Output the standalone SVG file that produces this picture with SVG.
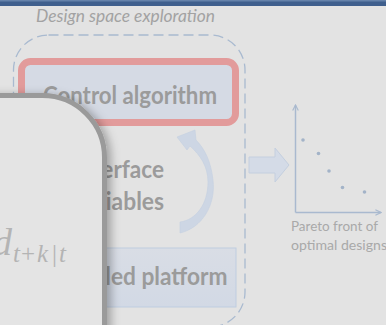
<svg xmlns="http://www.w3.org/2000/svg" width="386" height="325" viewBox="0 0 386 325">
<defs>
<style>
.bold{font-family:Lato,"Open Sans","Liberation Sans",sans-serif;font-weight:bold;font-size:24px;fill:#9b9b9b}
.cap{font-family:Lato,"Open Sans","Liberation Sans",sans-serif;font-size:14px;fill:#a9a9a9}
.math{font-family:"Liberation Serif","DejaVu Serif",serif;fill:#b4b4b4}
.axis{stroke:#a9b9cf;stroke-width:1.5;fill:none}
.dot{fill:#a3b3c8}
</style>
<marker id="chev" viewBox="0 0 10 10" refX="9" refY="5" markerWidth="7" markerHeight="7" orient="auto" markerUnits="userSpaceOnUse">
<path d="M1,1 L9,5 L1,9" fill="none" stroke="#a9b9cf" stroke-width="1.6"/>
</marker>
<linearGradient id="boxg" x1="0" y1="0" x2="0" y2="1">
<stop offset="0" stop-color="#d9dde5"/>
<stop offset="1" stop-color="#d2d9e5"/>
</linearGradient>
<filter id="sh" x="-20%" y="-20%" width="150%" height="150%">
<feDropShadow dx="4" dy="2" stdDeviation="5" flood-color="#000" flood-opacity="0.3"/>
</filter>
</defs>
<rect width="386" height="325" fill="#e3e3e3"/>
<rect x="0" y="0" width="386" height="6" fill="#3f5f8d"/>
<rect x="0" y="0" width="386" height="1.5" fill="#6582aa"/>
<text x="36" y="21.5" font-family="Lato,'Open Sans','Liberation Sans',sans-serif" font-style="italic" font-size="17" fill="#a2a2a2" textLength="179" lengthAdjust="spacingAndGlyphs">Design space exploration</text>

<g id="container">
<rect x="13.5" y="35" width="231.5" height="292" rx="35" fill="none" stroke="#a9bad0" stroke-width="1.3" stroke-dasharray="10 5"/>
</g>

<g id="control">
<rect x="21.5" y="61.5" width="214" height="61" rx="9" fill="#d5dae4" stroke="#e29b9b" stroke-width="7"/>
<text class="bold" x="130" y="104" text-anchor="middle" textLength="174" lengthAdjust="spacingAndGlyphs">Control algorithm</text>
</g>

<g id="interface">
<text class="bold" x="119" y="178" text-anchor="middle" textLength="90" lengthAdjust="spacingAndGlyphs">Interface</text>
<text class="bold" x="119" y="210" text-anchor="middle" textLength="90" lengthAdjust="spacingAndGlyphs">variables</text>
</g>

<g id="platform">
<rect x="20" y="248" width="216" height="59" fill="url(#boxg)" stroke="#bfcde0" stroke-width="1"/>
<text class="bold" x="227.5" y="285" text-anchor="end" textLength="198" lengthAdjust="spacingAndGlyphs">Controlled platform</text>
</g>

<g id="connectors">
<path d="M180,233 C202,228 216,205 213,180 C211,162 205,149 196,140 L195,130 L177,137 L187,150 L190,146 C200,155 208,166 208,182 C208,204 196,220 180,222 Z" fill="#cdd6e4" stroke="#c5d0e0" stroke-width="0.6"/>
<polygon points="249,157 275,157 275,148 289,165 275,182 275,173 249,173" fill="#d4dbe7" stroke="#c4cfdf" stroke-width="1"/>
</g>

<g id="pareto">
<line class="axis" x1="295.5" y1="212.5" x2="295.5" y2="105" marker-end="url(#chev)"/>
<line class="axis" x1="295.5" y1="212.5" x2="381" y2="212.5" marker-end="url(#chev)"/>
<circle class="dot" cx="303" cy="140" r="1.8"/>
<circle class="dot" cx="318.5" cy="153.5" r="1.8"/>
<circle class="dot" cx="329" cy="171" r="1.8"/>
<circle class="dot" cx="342.5" cy="187.5" r="1.8"/>
<circle class="dot" cx="364.5" cy="192" r="1.8"/>
<text class="cap" x="291" y="231" textLength="87" lengthAdjust="spacingAndGlyphs">Pareto front of</text>
<text class="cap" x="291" y="250" textLength="96" lengthAdjust="spacingAndGlyphs">optimal designs</text>
</g>

<g id="callout">
<rect x="-100" y="95.5" width="204.5" height="400" rx="62" fill="#e4e4e4" stroke="#9a9a9a" stroke-width="5" filter="url(#sh)"/>
<text class="math"><tspan x="-7" y="255" font-size="38" font-style="italic">d</tspan><tspan x="13" y="262" font-size="25" font-style="italic">t</tspan><tspan x="21" y="262" font-size="25">+</tspan><tspan x="37" y="262" font-size="25" font-style="italic">k</tspan><tspan x="52" y="262" font-size="25">|</tspan><tspan x="59" y="262" font-size="25" font-style="italic">t</tspan></text>
</g>
</svg>
